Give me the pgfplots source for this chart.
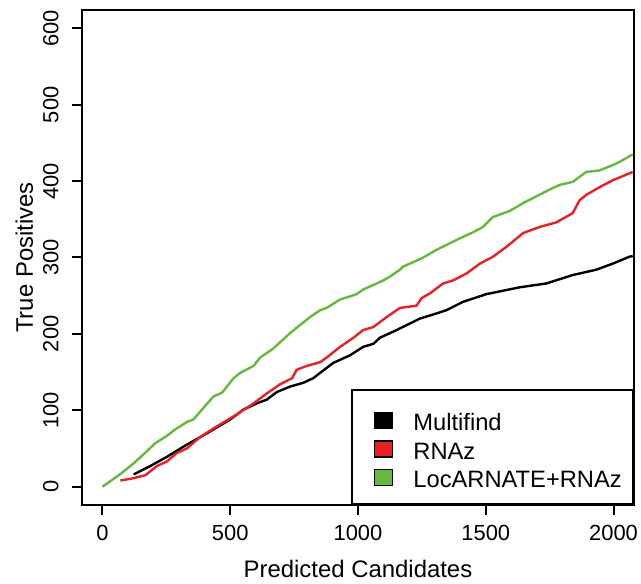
\documentclass[border=0pt]{standalone}
\usepackage{fontspec}
\setmainfont{Liberation Sans}
\usepackage{pgfplots}
\pgfplotsset{compat=1.18}
\definecolor{rred}{RGB}{235,32,36}
\definecolor{rgreen}{RGB}{100,185,62}

\begin{document}
\begin{tikzpicture}
\useasboundingbox (-41bp,-39.5bp) rectangle (279.5bp,252.5bp);
\begin{axis}[
  at={(0,0)}, anchor=south west, scale only axis,
  width=276bp, height=247.5bp,
  xmin=-80, xmax=2080, ymin=-24, ymax=624,
  xtick={0,500,1000,1500,2000}, ytick={0,100,...,600},
  tick pos=left, tick align=outside, major tick length=5bp,
  every tick/.style={black, line width=1bp},
  axis line style={line width=1bp},
  /pgf/number format/assume math mode=true,
  /pgf/number format/set thousands separator={},
  xticklabel style={anchor=north, inner sep=0pt, font=\fontsize{11}{13}\selectfont},
  yticklabel style={rotate=90, anchor=south, inner sep=0pt, font=\fontsize{11}{13}\selectfont},
  xticklabel shift=5bp, yticklabel shift=6.5bp,
  xlabel={Predicted Candidates}, ylabel={True Positives},
  every axis x label/.style={at={([yshift=-36bp]axis description cs:0.5,0)}, anchor=base, font=\fontsize{12}{14}\selectfont},
  every axis y label/.style={at={([xshift=-24.5bp]axis description cs:0,0.5)}, rotate=90, anchor=base, font=\fontsize{12}{14}\selectfont},
  legend style={at={(axis description cs:1,0)}, anchor=south east, draw=black, line width=1bp,
    inner xsep=5.6bp, inner ysep=8.3bp, row sep=2.2bp, column sep=10.5bp,
    font=\fontsize{11.9}{14}\selectfont,
    nodes={inner sep=0pt, text height=8bp, text depth=0pt}},
  legend cell align=left,
  legend image code/.code={\path[fill=none, draw=none] (0bp,0bp) rectangle (14.5bp,8bp);
    \draw[#1, overlay, draw=black, line width=0.6bp] (5.5bp,-3bp) rectangle (14.5bp,5bp);},
  every axis plot/.append style={line width=1.2bp},
]
% Multifind
\addplot[black, forget plot] coordinates {
(122,16) (187,27) (252,39) (330,55) (410,70) (500,88) (552,101) (604,109)
(643,114) (683,124) (734,131) (786,136) (825,142) (852,149) (903,162) (969,172)
(1020,183) (1060,187) (1086,195) (1151,205) (1242,220) (1300,226) (1346,231)
(1411,242) (1502,252) (1633,261) (1737,266) (1840,277) (1932,284) (1997,292)
(2062,301) (2075,302)};
% RNAz
\addplot[rred, forget plot] coordinates {
(70,8) (120,11) (168,15) (213,27) (252,33) (291,44) (330,50) (382,65) (448,79)
(513,92) (560,102) (591,109) (643,122) (695,134) (742,142) (760,153) (799,158)
(852,163) (877,169) (930,183) (982,195) (1020,205) (1060,209) (1112,222)
(1164,234) (1229,237) (1249,247) (1281,253) (1333,266) (1372,270) (1424,279)
(1477,292) (1528,301) (1581,314) (1646,332) (1711,340) (1776,346) (1840,358)
(1867,375) (1893,382) (1945,392) (1996,401) (2075,412)};
% LocARNATE+RNAz
\addplot[rgreen, forget plot] coordinates {
(0,0) (60,14) (117,29) (160,42) (207,57) (250,66) (285,75) (332,85) (356,88)
(400,105) (434,118) (468,123) (513,142) (539,149) (591,158) (617,169) (669,181)
(734,201) (812,222) (852,231) (877,234) (930,245) (995,252) (1020,258)
(1073,266) (1099,270) (1125,275) (1164,284) (1176,288) (1250,299) (1307,310)
(1350,317) (1398,325) (1450,333) (1489,340) (1528,353) (1594,361) (1650,372)
(1698,380) (1750,389) (1789,395) (1840,399) (1893,412) (1945,414) (1990,420)
(2023,425) (2075,435)};
\addlegendimage{fill=black}
\addlegendentry{Multifind}
\addlegendimage{fill=rred}
\addlegendentry{RNAz}
\addlegendimage{fill=rgreen}
\addlegendentry{LocARNATE+RNAz}
\end{axis}
\end{tikzpicture}
\end{document}
